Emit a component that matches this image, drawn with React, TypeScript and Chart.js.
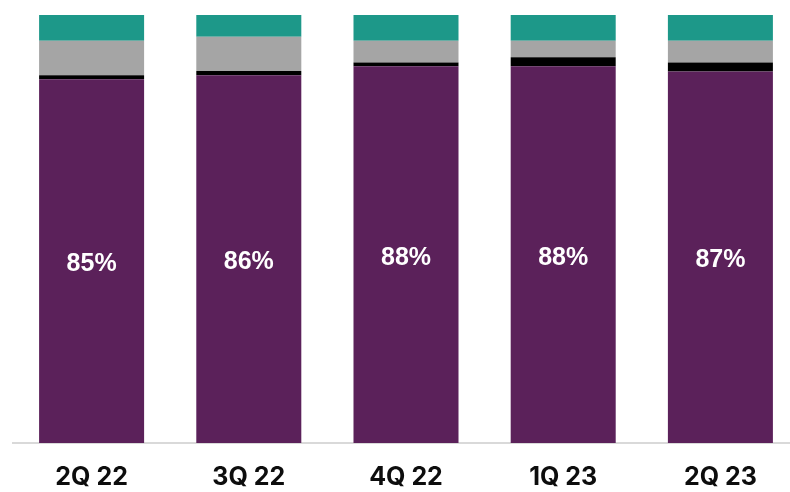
import React, { useEffect, useRef } from "react";
import { Chart, registerables } from "chart.js";

Chart.register(...registerables);

const categories = ["2Q 22", "3Q 22", "4Q 22", "1Q 23", "2Q 23"];
const purpleValues = [85.0, 85.9, 88.0, 88.0, 86.8];
const blackValues = [0.9, 1.0, 0.9, 2.1, 2.1];
const grayValues = [8.1, 8.0, 5.1, 3.9, 5.1];
const tealValues = [6.0, 5.1, 6.0, 6.0, 6.0];
const purpleLabels = ["85%", "86%", "88%", "88%", "87%"];

const labelPlugin = {
  id: "insideLabels",
  afterDatasetsDraw(chart: any) {
    const meta = chart.getDatasetMeta(0);
    const ctx = chart.ctx;
    ctx.save();
    ctx.fillStyle = "#ffffff";
    ctx.font = "bold 25px 'Liberation Sans', Arial, sans-serif";
    ctx.textAlign = "center";
    ctx.textBaseline = "middle";
    meta.data.forEach((bar: any, i: number) => {
      const y = (bar.y + bar.base) / 2 + 3;
      ctx.fillText(purpleLabels[i], bar.x, y);
    });
    ctx.restore();
  },
};

export default function App() {
  const ref = useRef<HTMLCanvasElement | null>(null);
  useEffect(() => {
    if (!ref.current) return;
    const chart = new Chart(ref.current, {
      type: "bar",
      data: {
        labels: categories,
        datasets: [
          { data: purpleValues, backgroundColor: "#5B215A" },
          { data: blackValues, backgroundColor: "#000000" },
          { data: grayValues, backgroundColor: "#A5A5A5" },
          { data: tealValues, backgroundColor: "#1D9889" },
        ],
      },
      options: {
        responsive: false,
        animation: false,
        devicePixelRatio: 1,
        datasets: {
          bar: { categoryPercentage: 1, barPercentage: 0.668 },
        },
        layout: { padding: { left: 13, right: 1, top: 15, bottom: 0 } },
        plugins: { legend: { display: false }, tooltip: { enabled: false } },
        scales: {
          x: {
            stacked: true,
            grid: { display: false },
            border: { display: true, color: "#D9D9D9", width: 2 },
            ticks: {
              padding: 11,
              color: "#0D0D0D",
              font: { family: "Inter, 'Liberation Sans', Arial, sans-serif", size: 25, weight: "bold" },
            },
            afterFit: (s: any) => {
              s.height = 49;
            },
          },
          y: { stacked: true, display: false, min: 0, max: 100 },
        },
      },
      plugins: [labelPlugin],
    } as any);
    return () => chart.destroy();
  }, []);
  return (
    <div style={{ position: "absolute", left: 0, top: 0, width: 790, height: 492, overflow: "hidden", background: "#fff" }}>
      <canvas ref={ref} width={800} height={492} style={{ width: 800, height: 492, display: "block" }} />
    </div>
  );
}
